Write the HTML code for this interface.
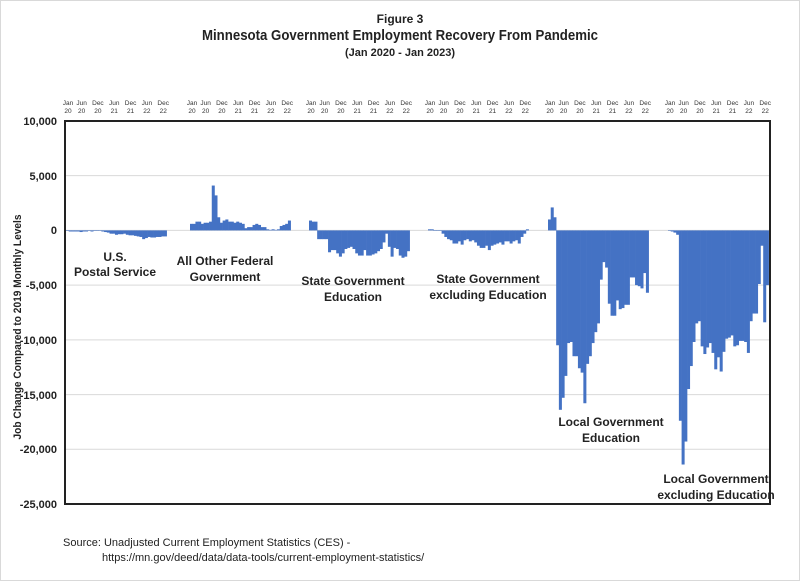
<!DOCTYPE html>
<html><head><meta charset="utf-8"><style>
html,body{margin:0;padding:0;background:#fff}
svg{display:block;font-family:"Liberation Sans",Calibri,sans-serif}
.b{font-weight:bold;fill:#222}
</style></head><body>
<svg id="s" width="800" height="581" viewBox="0 0 800 581">
<rect x="0.5" y="0.5" width="799" height="580" fill="#fff" stroke="#d9d9d9"/>
<text x="400" y="23" text-anchor="middle" class="b" font-size="12">Figure 3</text>
<text x="400" y="40" text-anchor="middle" class="b" font-size="15" textLength="396" lengthAdjust="spacingAndGlyphs">Minnesota Government Employment Recovery From Pandemic</text>
<text x="400" y="56" text-anchor="middle" class="b" font-size="11">(Jan 2020 - Jan 2023)</text>
<g stroke="#d9d9d9" stroke-width="1">
<line x1="66" x2="769" y1="175.6" y2="175.6"/><line x1="66" x2="769" y1="285.1" y2="285.1"/>
<line x1="66" x2="769" y1="339.9" y2="339.9"/><line x1="66" x2="769" y1="394.6" y2="394.6"/>
<line x1="66" x2="769" y1="449.3" y2="449.3"/><line x1="66" x2="769" y1="230.4" y2="230.4"/>
</g>
<g id="bars" fill="#4472c4"></g>
<rect x="65" y="121" width="705" height="383" fill="none" stroke="#222" stroke-width="2"/>
<g class="b" font-size="11" text-anchor="end">
<text x="57" y="125">10,000</text><text x="57" y="180">5,000</text><text x="57" y="234">0</text>
<text x="57" y="289">-5,000</text><text x="57" y="344">-10,000</text><text x="57" y="399">-15,000</text>
<text x="57" y="453">-20,000</text><text x="57" y="508">-25,000</text>
</g>
<text transform="translate(21,327) rotate(-90)" text-anchor="middle" class="b" font-size="11" textLength="225" lengthAdjust="spacingAndGlyphs">Job Change Compared to 2019 Monthly Levels</text>
<g id="ticks" font-size="6.5" fill="#333" text-anchor="middle"></g>
<g class="b" font-size="12" text-anchor="middle">
<text x="115" y="261">U.S.</text><text x="115" y="276">Postal Service</text>
<text x="225" y="265">All Other Federal</text><text x="225" y="281">Government</text>
<text x="353" y="285">State Government</text><text x="353" y="301">Education</text>
<text x="488" y="283">State Government</text><text x="488" y="299">excluding Education</text>
<text x="611" y="426">Local Government</text><text x="611" y="442">Education</text>
<text x="716" y="483">Local Government</text><text x="716" y="499">excluding Education</text>
</g>
<text x="63" y="546" font-size="11" fill="#222">Source: Unadjusted Current Employment Statistics (CES) -</text>
<text x="102" y="561" font-size="11" fill="#222">https://mn.gov/deed/data/data-tools/current-employment-statistics/</text>
</svg>
<script>
var D=[
[-0.05,-0.1,-0.1,-0.1,-0.1,-0.15,-0.1,-0.1,-0.05,-0.1,-0.05,-0.05,0,-0.1,-0.15,-0.2,-0.3,-0.3,-0.4,-0.35,-0.35,-0.3,-0.4,-0.45,-0.45,-0.5,-0.55,-0.6,-0.8,-0.7,-0.6,-0.65,-0.65,-0.6,-0.6,-0.55,-0.55],
[0.6,0.6,0.8,0.8,0.6,0.7,0.7,0.8,4.1,3.2,1.2,0.7,0.9,1.0,0.8,0.8,0.7,0.8,0.7,0.6,0.2,0.3,0.3,0.5,0.6,0.5,0.3,0.3,0.1,0.05,0.1,0.05,0.1,0.4,0.5,0.6,0.9],
[0.9,0.8,0.8,-0.8,-0.8,-0.8,-0.8,-2.0,-1.8,-1.8,-2.1,-2.4,-2.1,-1.7,-1.6,-1.5,-1.7,-2.1,-2.3,-2.3,-1.8,-2.3,-2.3,-2.2,-2.1,-1.9,-1.7,-1.1,-0.3,-1.5,-2.4,-1.6,-1.7,-2.3,-2.5,-2.4,-1.9],
[0.1,0.1,0,0,0,-0.3,-0.6,-0.8,-0.9,-1.2,-1.2,-1.0,-1.3,-0.9,-0.8,-1.0,-0.9,-1.1,-1.4,-1.6,-1.6,-1.4,-1.8,-1.4,-1.3,-1.2,-1.1,-1.3,-1.0,-1.0,-1.2,-1.0,-0.9,-1.2,-0.6,-0.3,0.1],
[1.0,2.1,1.2,-10.5,-16.4,-15.3,-13.3,-10.3,-10.2,-11.5,-11.5,-12.6,-13.0,-15.8,-12.2,-11.5,-10.3,-9.3,-8.5,-4.5,-2.9,-3.4,-6.7,-7.8,-7.8,-6.4,-7.2,-7.1,-6.8,-6.8,-4.3,-4.3,-5.0,-5.1,-5.3,-3.9,-5.7],
[0,-0.1,-0.2,-0.4,-17.4,-21.4,-19.3,-14.5,-12.4,-10.2,-8.5,-8.3,-10.6,-11.3,-10.7,-10.3,-11.2,-12.7,-11.6,-12.9,-11.1,-9.9,-9.8,-9.6,-10.6,-10.5,-10.1,-10.1,-10.2,-11.2,-8.3,-7.6,-7.6,-4.9,-1.4,-8.4,-5.0]];
var S=[66,190,309,428,548,668],W=2.72,Y0=230.4,K=10.94,ns="http://www.w3.org/2000/svg";
var g=document.getElementById("bars"),t=document.getElementById("ticks");
var L=[[0,"Jan","20"],[5,"Jun","20"],[11,"Dec","20"],[17,"Jun","21"],[23,"Dec","21"],[29,"Jun","22"],[35,"Dec","22"]];
for(var i=0;i<6;i++){for(var j=0;j<37;j++){var v=D[i][j],r=document.createElementNS(ns,"rect");
var h=Math.abs(v)*K;r.setAttribute("x",S[i]+j*W);r.setAttribute("width",W+0.3);
r.setAttribute("y",v>=0?Y0-h:Y0);r.setAttribute("height",Math.max(h,0.5));g.appendChild(r);}
L.forEach(function(l){var x=S[i]+l[0]*W+2;for(var k=1;k<3;k++){var e=document.createElementNS(ns,"text");
e.setAttribute("x",x);e.setAttribute("y",k==1?105:113);e.textContent=l[k];t.appendChild(e);}});}
</script>
</body></html>
